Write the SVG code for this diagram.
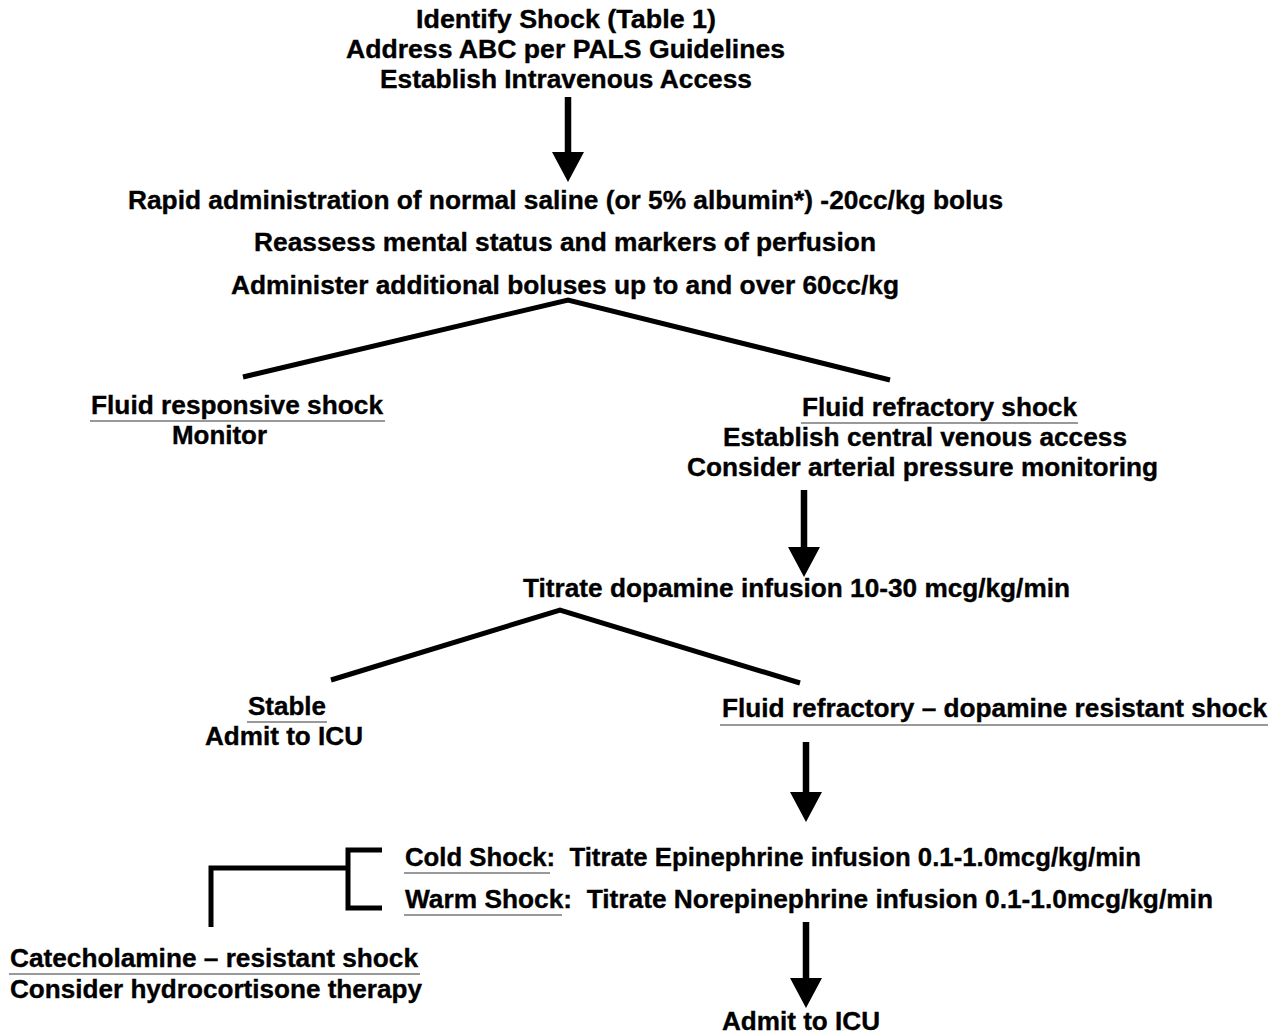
<svg xmlns="http://www.w3.org/2000/svg" width="1280" height="1033" viewBox="0 0 1280 1033">
<style>
text{font-family:"Liberation Sans",Arial,Helvetica,sans-serif;font-weight:bold;font-size:25.5px;fill:#000;stroke:#000;stroke-width:0.35}
.pre{white-space:pre}
.ul{stroke:#777;stroke-width:1.6}
.br{stroke:#000;stroke-width:5;fill:none;stroke-linecap:butt}
.ar{stroke:#000;stroke-width:6.5;fill:none}
</style>
<defs>
<marker id="head" markerUnits="userSpaceOnUse" viewBox="0 0 30 32" refX="0" refY="16" markerWidth="30" markerHeight="32" orient="auto">
<path d="M0,0 L30,16 L0,32 Z" fill="#000"/>
</marker>
</defs>
<rect width="1280" height="1033" fill="#fff"/>
<g id="connectors">
<line class="ar" x1="568" y1="97" x2="568" y2="152" marker-end="url(#head)"/>
<polyline class="br" points="243,377 568,300 890,380"/>
<line class="ar" x1="804" y1="490" x2="804" y2="547" marker-end="url(#head)"/>
<polyline class="br" points="331,680 560,610 800,683"/>
<line class="ar" x1="806" y1="742" x2="806" y2="792" marker-end="url(#head)"/>
<polyline class="br" points="382,850 348,850 348,908 382,908"/>
<polyline class="br" points="348,868 211,868 211,927"/>
<line class="ar" x1="806" y1="922" x2="806" y2="978" marker-end="url(#head)"/>
</g>
<g id="n-start">
<text x="416" y="28" textLength="300" lengthAdjust="spacingAndGlyphs">Identify Shock (Table 1)</text>
<text x="346" y="58" textLength="439" lengthAdjust="spacingAndGlyphs">Address ABC per PALS Guidelines</text>
<text x="380" y="88" textLength="372" lengthAdjust="spacingAndGlyphs">Establish Intravenous Access</text>
</g>
<g id="n-fluid">
<text x="128" y="209" textLength="875" lengthAdjust="spacingAndGlyphs">Rapid administration of normal saline (or 5% albumin*) -20cc/kg bolus</text>
<text x="254" y="251" textLength="622" lengthAdjust="spacingAndGlyphs">Reassess mental status and markers of perfusion</text>
<text x="231" y="294" textLength="668" lengthAdjust="spacingAndGlyphs">Administer additional boluses up to and over 60cc/kg</text>
</g>
<g id="n-responsive">
<text x="91" y="414" textLength="292" lengthAdjust="spacingAndGlyphs">Fluid responsive shock</text>
<line class="ul" x1="90" y1="421" x2="385" y2="421"/>
<text x="172" y="444" textLength="95" lengthAdjust="spacingAndGlyphs">Monitor</text>
</g>
<g id="n-refractory">
<text x="802" y="416" textLength="275" lengthAdjust="spacingAndGlyphs">Fluid refractory shock</text>
<line class="ul" x1="801" y1="423" x2="1078" y2="423"/>
<text x="723" y="446" textLength="404" lengthAdjust="spacingAndGlyphs">Establish central venous access</text>
<text x="687" y="476" textLength="471" lengthAdjust="spacingAndGlyphs">Consider arterial pressure monitoring</text>
</g>
<g id="n-dopamine">
<text x="523" y="597" textLength="547" lengthAdjust="spacingAndGlyphs">Titrate dopamine infusion 10-30 mcg/kg/min</text>
</g>
<g id="n-stable">
<text x="248" y="715" textLength="78" lengthAdjust="spacingAndGlyphs">Stable</text>
<line class="ul" x1="247" y1="722" x2="327" y2="722"/>
<text x="205" y="745" textLength="158" lengthAdjust="spacingAndGlyphs">Admit to ICU</text>
</g>
<g id="n-dopres">
<text x="722" y="717" textLength="545" lengthAdjust="spacingAndGlyphs">Fluid refractory – dopamine resistant shock</text>
<line class="ul" x1="720" y1="725" x2="1268" y2="725"/>
</g>
<g id="n-cold">
<text class="pre" x="405" y="866" textLength="736" lengthAdjust="spacingAndGlyphs">Cold Shock:  Titrate Epinephrine infusion 0.1-1.0mcg/kg/min</text>
<line class="ul" x1="404" y1="873" x2="550" y2="873"/>
</g>
<g id="n-warm">
<text class="pre" x="405" y="908" textLength="808" lengthAdjust="spacingAndGlyphs">Warm Shock:  Titrate Norepinephrine infusion 0.1-1.0mcg/kg/min</text>
<line class="ul" x1="404" y1="915" x2="562" y2="915"/>
</g>
<g id="n-catechol">
<text x="10" y="967" textLength="408" lengthAdjust="spacingAndGlyphs">Catecholamine – resistant shock</text>
<line class="ul" x1="9" y1="974" x2="420" y2="974"/>
<text x="10" y="998" textLength="412" lengthAdjust="spacingAndGlyphs">Consider hydrocortisone therapy</text>
</g>
<g id="n-admit">
<text x="722" y="1030" textLength="158" lengthAdjust="spacingAndGlyphs">Admit to ICU</text>
</g>
</svg>
